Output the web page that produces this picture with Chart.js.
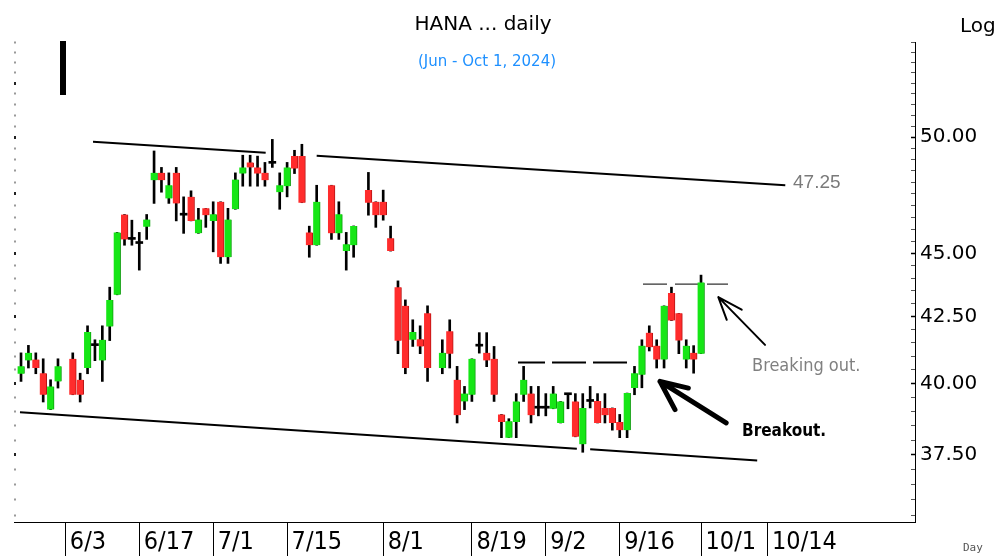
<!DOCTYPE html>
<html>
<head>
<meta charset="utf-8">
<script src="https://cdn.jsdelivr.net/npm/chart.js@4.4.1/dist/chart.umd.min.js"></script>
<style>
html,body{margin:0;padding:0;background:#fff;}
canvas{display:block;}
</style>
</head>
<body>
<canvas id="c" width="999" height="556"></canvas>
<script>
// trading-day slot of each candle (slots with no candle are skipped)
const dayIndex = [0,1,2,3,4,5,
  7,8,9,10,11,12,13,14,15,16,17,18,19,20,21,22,23,24,25,26,27,28,29,30,31,32,33,34,35,36,37,38,39,40,
  42,43,44,45,
  47,48,49,50,51,52,53,54,55,
  57,58,59,60,61,62,63,64,65,66,67,68,69,70,71,72,73,74,75,76,77,78,79,80,81,82,83,84,85,86,87,88,89,90,91,92];
const open = [40.36,40.85,40.88,40.38,39.07,40.08,
  40.91,40.14,40.57,41.40,40.85,42.12,43.35,46.62,45.58,45.41,46.10,48.09,48.41,47.30,48.41,46.59,47.37,45.83,46.88,46.35,47.16,44.85,46.84,48.38,48.87,48.65,48.41,48.83,47.57,47.83,49.16,49.16,45.87,45.34,
  47.87,45.83,45.10,45.34,
  47.66,47.16,47.16,45.63,43.65,42.92,41.62,41.64,42.63,
  40.57,41.94,40.14,39.36,39.60,41.38,41.13,40.91,38.90,38.09,38.63,39.60,39.64,39.12,39.12,39.10,38.60,39.60,39.36,37.86,39.36,39.38,39.13,39.13,38.63,38.35,39.84,40.32,41.89,41.40,40.88,43.42,42.63,40.88,41.13,41.10];
const high = [41.13,41.41,41.13,40.91,40.14,40.91,
  41.13,40.38,42.15,41.62,42.15,43.65,45.87,46.62,46.38,45.87,46.62,49.38,48.65,48.41,48.65,47.37,47.63,46.88,46.88,47.16,47.16,46.88,48.41,49.19,49.19,49.15,48.87,49.90,48.41,48.87,49.41,49.68,46.13,47.87,
  47.87,47.16,45.87,46.14,
  48.43,47.16,47.66,46.13,43.90,43.15,42.38,42.15,42.92,
  41.62,42.38,40.63,39.90,40.91,41.89,41.89,41.37,38.90,38.75,39.64,40.63,39.90,39.90,39.64,39.90,39.36,39.60,39.64,39.64,39.90,39.64,39.64,39.13,38.90,39.66,40.63,41.62,42.15,41.62,42.92,43.65,42.63,41.62,41.40,44.13];
const low = [40.08,40.57,40.36,39.34,39.07,39.84,
  39.60,39.34,40.36,40.84,40.08,41.59,43.35,45.34,45.34,44.33,45.58,47.09,47.57,47.09,46.35,45.83,46.35,45.83,46.08,45.07,44.60,44.60,46.84,47.83,47.83,47.83,47.83,48.65,46.84,47.37,48.38,47.12,44.85,45.34,
  45.58,45.58,44.33,44.85,
  46.59,46.08,46.38,45.10,41.10,40.36,41.37,41.10,40.08,
  40.36,40.57,38.60,39.07,39.36,41.12,40.62,39.36,38.09,38.09,38.09,39.36,38.60,38.85,38.85,39.10,38.60,39.10,38.12,37.59,39.13,38.60,38.60,38.35,38.09,38.09,39.60,39.85,41.20,40.57,40.57,42.35,41.10,40.57,40.38,41.10];
const close = [40.63,41.13,40.57,39.60,39.90,40.63,
  39.60,39.60,41.91,41.40,41.62,43.15,45.87,45.58,45.58,45.41,46.41,48.41,48.09,47.87,47.09,46.59,46.35,46.41,46.59,46.63,44.85,46.41,48.12,48.65,48.65,48.38,48.09,48.83,47.87,48.65,48.60,47.12,45.34,47.16,
  45.83,46.63,45.38,46.14,
  47.12,46.59,46.59,45.10,41.58,40.57,41.91,41.37,40.57,
  41.13,41.10,38.87,39.64,40.91,41.38,40.85,39.60,38.63,38.66,39.36,40.14,38.87,39.12,39.12,39.64,39.36,39.60,38.12,39.13,39.36,38.60,38.87,38.60,38.35,39.66,40.38,41.40,41.34,40.88,42.92,42.35,41.59,41.40,40.88,43.84];

// x-axis date ticks (slot numbers) and labels
const tickDays = [6,16,26,36,49,61,71,81,92,101];
const tickLabels = ['6/3','6/17','7/1','7/15','8/1','8/19','9/2','9/16','10/1','10/14'];
// price labels on the log axis
const priceLabels = [37.5,40,42.5,45,50];

// drawn lines (null = break)
const upperTrendX = [9.74,33.1,36.5,40.0,103.4];
const upperTrendY = [49.79,49.30,null,49.17,47.87];
const lowerTrendX = [-0.14,75.2,76.1,77.0,99.6];
const lowerTrendY = [38.98,37.71,null,37.69,37.31];
const resistX = [67.24,82.12];
const resistY = [40.77,40.77];
const breakLevelX = [84.15,95.65];
const breakLevelY = [43.77,43.77];
const bigArrowX = [95.4,86.45,86.45,90.28,86.45,88.48];
const bigArrowY = [38.60,40.08,null,39.84,40.08,39.07];
const smallArrowX = [100.66,94.34,94.34,97.5,94.34,95.48];
const smallArrowY = [41.43,43.26,null,42.77,43.26,42.38];

// text notes anchored in data space
const noteText = ['47.25','Breaking out.','Breakout.'];
const noteX = [104.45,98.9,97.55];
const noteY = [47.96,40.65,38.30];

const Y_MIN = 35.29, Y_MAX = 54.5;
const minorTicks = [];
for (let v = 35.5; v <= 54.5; v += 0.5) minorTicks.push(v);

const candles = dayIndex.map((d,i)=>({d, o:open[i], h:high[i], l:low[i], c:close[i]}));
const pts = (xs, ys) => xs.map((x,i)=>({x, y: ys[i]}));

const GREEN = '#16e616', GREEN_D = '#0c9e0c';
const RED = '#ff2c2c', RED_D = '#b81414';

const annot = {
  id: 'annot',
  afterDraw(chart) {
    const {ctx, scales:{x, y}} = chart;
    ctx.save();
    // marker bar top-left
    ctx.fillStyle = '#000';
    ctx.fillRect(60, 41, 6, 54);
    ctx.textBaseline = 'middle';
    ctx.textAlign = 'center';
    ctx.fillStyle = '#000';
    ctx.font = '20px "DejaVu Sans", sans-serif';
    ctx.fillText('HANA ... daily', 483, 25);
    ctx.fillStyle = '#1e90ff';
    ctx.font = '15px "DejaVu Sans", sans-serif';
    ctx.fillText('(Jun - Oct 1, 2024)', 487, 62);
    ctx.textAlign = 'left';
    ctx.fillStyle = '#000';
    ctx.font = '20px "DejaVu Sans", sans-serif';
    ctx.fillText('Log', 960, 27);
    ctx.fillStyle = '#555';
    ctx.font = '11px "DejaVu Sans Mono", monospace';
    ctx.fillText('Day', 963, 548);
    const styles = [
      {c:'#7a7a7a', f:'19px "Liberation Sans", Arial, sans-serif'},
      {c:'#808080', f:'18px "Liberation Sans Narrow", "DejaVu Sans Condensed", sans-serif'},
      {c:'#000', f:'bold 17px "Liberation Sans Narrow", "DejaVu Sans Condensed", sans-serif'}
    ];
    noteText.forEach((t,i)=>{
      ctx.fillStyle = styles[i].c;
      ctx.font = styles[i].f;
      ctx.fillText(t, x.getPixelForValue(noteX[i]), y.getPixelForValue(noteY[i]));
    });
    ctx.restore();
  }
};

const lineDs = (data, extra) => Object.assign({
  type:'line', data, borderColor:'#000', borderWidth:2, pointRadius:0, tension:0,
  spanGaps:false, fill:false, order:10, clip:false
}, extra);

new Chart(document.getElementById('c'), {
  type: 'bar',
  data: {
    datasets: [
      lineDs(pts(upperTrendX, upperTrendY), {}),
      lineDs(pts(lowerTrendX, lowerTrendY), {}),
      lineDs(pts(resistX, resistY), {borderDash:[34,7], borderDashOffset:7, borderWidth:2}),
      lineDs(pts(breakLevelX, breakLevelY), {borderDash:[24,8], borderWidth:1.3, borderColor:'#333'}),
      lineDs(pts(bigArrowX, bigArrowY), {borderWidth:5, borderCapStyle:'round', borderJoinStyle:'round', order:0}),
      lineDs(pts(smallArrowX, smallArrowY), {borderWidth:2, borderCapStyle:'round', borderJoinStyle:'round', order:0}),
      { label:'wick', data: candles.map(k=>({x:k.d, y:[k.l,k.h]})), backgroundColor:'#000',
        barThickness:2, grouped:false, order:3 },
      { label:'up', data: candles.filter(k=>k.c>k.o).map(k=>({x:k.d, y:[k.o,k.c]})),
        backgroundColor:GREEN, borderColor:GREEN_D, borderWidth:{right:1,left:0,top:0,bottom:0},
        borderSkipped:false, barThickness:7, grouped:false, order:2 },
      { label:'down', data: candles.filter(k=>k.c<k.o).map(k=>({x:k.d, y:[k.o,k.c]})),
        backgroundColor:RED, borderColor:RED_D, borderWidth:{right:1,left:0,top:0,bottom:0},
        borderSkipped:false, barThickness:7, grouped:false, order:2 },
      { label:'doji', data: candles.filter(k=>k.c===k.o).map(k=>({x:k.d, y:[k.o,k.c]})),
        backgroundColor:'#000', barThickness:7, minBarLength:2, grouped:false, order:1 }
    ]
  },
  options: {
    responsive:false, animation:false, devicePixelRatio:1,
    layout:{ padding:{top:42,left:0,right:0,bottom:0} },
    plugins:{ legend:{display:false}, tooltip:{enabled:false}, title:{display:false} },
    scales:{
      x:{ type:'linear', min:-0.95, max:120.95, offset:false, position:'bottom',
        grid:{ display:true, drawOnChartArea:false, drawTicks:true, tickLength:34, color:'#000', lineWidth:1, offset:false },
        border:{ display:true, color:'#000', width:1 },
        afterBuildTicks: s => { s.ticks = tickDays.map(v=>({value:v})); },
        afterFit: s => { s.height = 34; },
        ticks:{ autoSkip:false, maxRotation:0, minRotation:0, align:'start', padding:-29, color:'#000',
          font:{ family:'"Liberation Sans Narrow", "DejaVu Sans Condensed", sans-serif', size:25 },
          callback: v => { const i = tickDays.indexOf(v); return i >= 0 ? '\u2009' + tickLabels[i] : ''; } }
      },
      y:{ type:'logarithmic', position:'right', min:Y_MIN, max:Y_MAX,
        grid:{ drawOnChartArea:false, drawTicks:true, tickLength:-4,
          tickColor: c => priceLabels.includes(c.tick && c.tick.value) ? '#000' : '#555',
          tickWidth: c => priceLabels.includes(c.tick && c.tick.value) ? 1.5 : 1 },
        border:{ display:true, color:'#000', width:1 },
        afterBuildTicks: s => { s.ticks = minorTicks.map(v=>({value:v})); },
        afterFit: s => { s.width = 84; },
        ticks:{ autoSkip:false, padding:9, color:'#000',
          font:{ family:'"DejaVu Sans", sans-serif', size:20 },
          callback: v => priceLabels.includes(v) ? v.toFixed(2) : '' }
      },
      yl:{ type:'logarithmic', position:'left', min:Y_MIN, max:Y_MAX, display:true,
        grid:{ drawOnChartArea:false, drawTicks:true, tickLength:-2,
          tickColor: c => (c.tick && c.tick.value % 2.5 === 0) ? '#222' : '#999',
          tickWidth: c => (c.tick && c.tick.value % 2.5 === 0) ? 3 : 2 },
        border:{ display:false },
        afterBuildTicks: s => { s.ticks = minorTicks.map(v=>({value:v})); },
        afterFit: s => { s.width = 14; },
        ticks:{ display:false, autoSkip:false }
      }
    }
  },
  plugins:[annot]
});
</script>
</body>
</html>
